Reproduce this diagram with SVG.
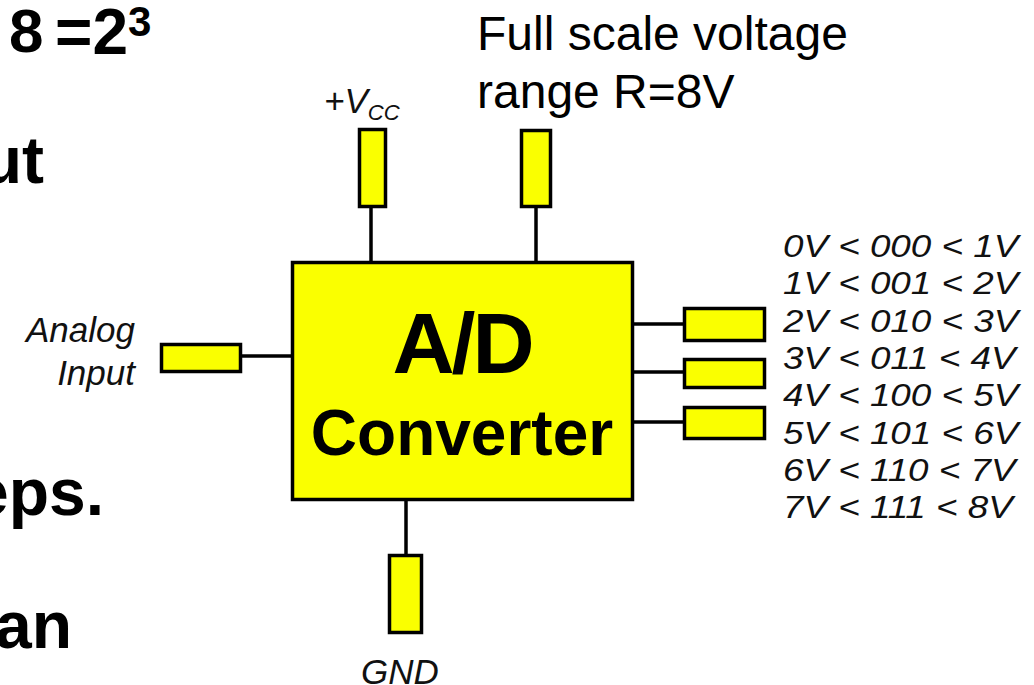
<svg xmlns="http://www.w3.org/2000/svg" width="1034" height="685" viewBox="0 0 1034 685">
<style>
.box{fill:#FAFF00;stroke:#000;stroke-width:3.5}
.pin{fill:#FAFF00;stroke:#000;stroke-width:3.5}
.wire{stroke:#000;stroke-width:3.5;fill:none}
.slide{font-family:"Liberation Sans",Arial,sans-serif;font-weight:bold;fill:#000}
.lbl{font-family:"Liberation Sans",Arial,sans-serif;font-style:italic;fill:#111;font-size:35px}
.out{font-family:"Liberation Sans",Arial,sans-serif;font-style:italic;fill:#111;font-size:32px}
.note{font-family:"Liberation Sans",Arial,sans-serif;fill:#000;font-size:48px}
</style>
<rect width="1034" height="685" fill="#fff"/>
<g id="slide-text" class="slide">
<text x="9" y="52" font-size="62">8</text>
<text x="55" y="54" font-size="64">=2</text>
<text x="128" y="36" font-size="42">3</text>
<text x="44" y="183" font-size="66" text-anchor="end">ut</text>
<text x="104" y="515" font-size="66" text-anchor="end">eps.</text>
<text x="72" y="648" font-size="66" text-anchor="end">an</text>
</g>
<g id="note">
<text class="note" x="477" y="50">Full scale voltage</text>
<text class="note" x="477" y="108">range R=8V</text>
</g>
<g id="connectors">
<line class="wire" x1="371" y1="207" x2="371" y2="262"/>
<line class="wire" x1="536" y1="207" x2="536" y2="262"/>
<line class="wire" x1="241" y1="356" x2="292" y2="356"/>
<line class="wire" x1="633" y1="324" x2="685" y2="324"/>
<line class="wire" x1="633" y1="372" x2="685" y2="372"/>
<line class="wire" x1="633" y1="422" x2="685" y2="422"/>
<line class="wire" x1="406" y1="500" x2="406" y2="556"/>
</g>
<g id="converter">
<rect class="box" x="292.5" y="262.5" width="340" height="237"/>
<text class="slide" x="462" y="373" font-size="86" text-anchor="middle" letter-spacing="-3">A/D</text>
<text class="slide" x="462" y="455" font-size="64" text-anchor="middle">Converter</text>
</g>
<g id="vcc">
<rect class="pin" x="359.5" y="129.5" width="26" height="77"/>
<text class="lbl" x="324" y="113" font-size="34">+V<tspan font-size="22" dy="7">CC</tspan></text>
</g>
<g id="range-pin">
<rect class="pin" x="521.5" y="130.5" width="29" height="76"/>
</g>
<g id="analog-input">
<rect class="pin" x="161.5" y="344.5" width="79" height="27"/>
<text class="lbl" x="135" y="342" text-anchor="end">Analog</text>
<text class="lbl" x="135" y="385" text-anchor="end">Input</text>
</g>
<g id="out1"><rect class="pin" x="684.5" y="308.5" width="80" height="32"/></g>
<g id="out2"><rect class="pin" x="684.5" y="359.5" width="80" height="28"/></g>
<g id="out3"><rect class="pin" x="684.5" y="407.5" width="80" height="31"/></g>
<g id="gnd">
<rect class="pin" x="389.5" y="555.5" width="32" height="77"/>
<text class="lbl" x="400" y="684" text-anchor="middle">GND</text>
</g>
<g id="code-table" class="out" transform="translate(783,0) scale(1.15,1)">
<text x="0" y="257">0V &lt; 000 &lt; 1V</text>
<text x="0" y="294">1V &lt; 001 &lt; 2V</text>
<text x="0" y="332">2V &lt; 010 &lt; 3V</text>
<text x="0" y="369">3V &lt; 011 &lt; 4V</text>
<text x="0" y="406">4V &lt; 100 &lt; 5V</text>
<text x="0" y="444">5V &lt; 101 &lt; 6V</text>
<text x="0" y="481">6V &lt; 110 &lt; 7V</text>
<text x="0" y="518">7V &lt; 111 &lt; 8V</text>
</g>
</svg>
